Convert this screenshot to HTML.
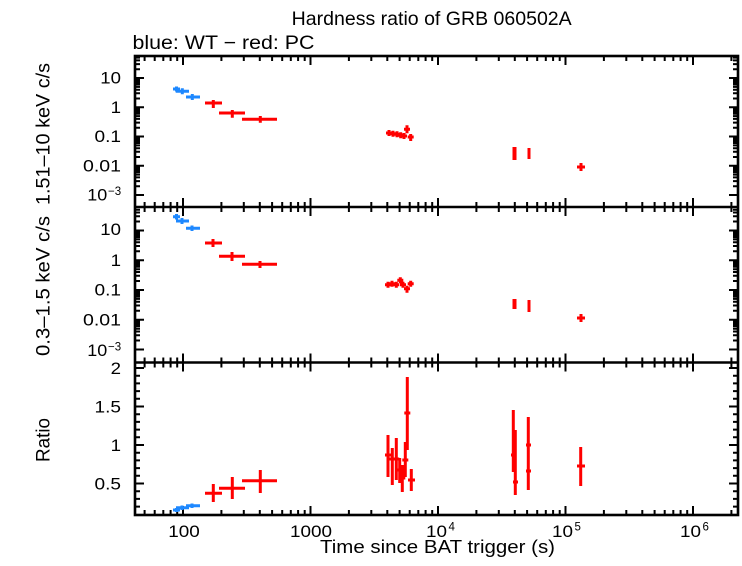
<!DOCTYPE html>
<html><head><meta charset="utf-8"><style>
html,body{margin:0;padding:0;background:#fff;}
svg{display:block;}
text{font-family:"Liberation Sans",Arial,sans-serif;fill:#000;}
</style></head><body>
<svg width="742" height="566" viewBox="0 0 742 566" xmlns="http://www.w3.org/2000/svg">
<rect x="0" y="0" width="742" height="566" fill="#fff"/>
<defs>
<path id="xt" fill="none" stroke="#000" stroke-width="2" d="M183 0v9M310.5 0v9M438 0v9M565.5 0v9M693 0v9M144.6 0v5M154.7 0v5M163.3 0v5M170.6 0v5M177.2 0v5M221.4 0v5M243.8 0v5M259.8 0v5M272.1 0v5M282.2 0v5M290.8 0v5M298.1 0v5M304.7 0v5M348.9 0v5M371.3 0v5M387.3 0v5M399.6 0v5M409.7 0v5M418.3 0v5M425.6 0v5M432.2 0v5M476.4 0v5M498.8 0v5M514.8 0v5M527.1 0v5M537.2 0v5M545.8 0v5M553.1 0v5M559.7 0v5M603.9 0v5M626.3 0v5M642.3 0v5M654.6 0v5M664.7 0v5M673.3 0v5M680.6 0v5M687.2 0v5M731.4 0v5"/>
<path id="yt1" fill="none" stroke="#000" stroke-width="2" d="M135 78.05h9M135 107.3h9M135 136.55h9M135 165.8h9M135 195.05h9M135 57.6h5M135 60.4h5M135 64.1h5M135 69.2h5M135 79.4h5M135 80.9h5M135 82.6h5M135 84.5h5M135 86.9h5M135 89.7h5M135 93.3h5M135 98.5h5M135 108.6h5M135 110.1h5M135 111.8h5M135 113.8h5M135 116.1h5M135 118.9h5M135 122.6h5M135 127.7h5M135 137.9h5M135 139.4h5M135 141.1h5M135 143h5M135 145.4h5M135 148.2h5M135 151.8h5M135 157h5M135 167.1h5M135 168.6h5M135 170.3h5M135 172.3h5M135 174.6h5M135 177.4h5M135 181.1h5M135 186.2h5"/>
<path id="yt2" fill="none" stroke="#000" stroke-width="2" d="M135 230.45h9M135 260.2h9M135 289.95h9M135 319.7h9M135 349.45h9M135 209.7h5M135 212.5h5M135 216.3h5M135 221.5h5M135 231.8h5M135 233.3h5M135 235.1h5M135 237.1h5M135 239.4h5M135 242.3h5M135 246h5M135 251.2h5M135 261.6h5M135 263.1h5M135 264.8h5M135 266.8h5M135 269.2h5M135 272h5M135 275.8h5M135 281h5M135 291.3h5M135 292.8h5M135 294.6h5M135 296.6h5M135 298.9h5M135 301.8h5M135 305.5h5M135 310.7h5M135 321.1h5M135 322.6h5M135 324.3h5M135 326.3h5M135 328.7h5M135 331.5h5M135 335.3h5M135 340.5h5"/>
<path id="yt3" fill="none" stroke="#000" stroke-width="2" d="M135 368h9M135 406.5h9M135 445h9M135 483.5h9M135 375.7h5M135 383.4h5M135 391.1h5M135 398.8h5M135 414.2h5M135 421.9h5M135 429.6h5M135 437.3h5M135 452.7h5M135 460.4h5M135 468.1h5M135 475.8h5M135 491.2h5M135 498.9h5M135 506.6h5"/>
</defs>

<!-- ticks -->
<use href="#xt" transform="translate(0,56)"/>
<use href="#xt" transform="translate(0,207) scale(1,-1)"/>
<use href="#xt" transform="translate(0,207)"/>
<use href="#xt" transform="translate(0,362.5) scale(1,-1)"/>
<use href="#xt" transform="translate(0,362.5)"/>
<use href="#xt" transform="translate(0,515) scale(1,-1)"/>
<use href="#yt1"/><use href="#yt1" transform="translate(873,0) scale(-1,1)"/>
<use href="#yt2"/><use href="#yt2" transform="translate(873,0) scale(-1,1)"/>
<use href="#yt3"/><use href="#yt3" transform="translate(873,0) scale(-1,1)"/>

<!-- frames -->
<rect x="135" y="56" width="603" height="459" fill="none" stroke="#000" stroke-width="2.6"/>
<path d="M135 207H738M135 362.5H738" stroke="#000" stroke-width="2.6" fill="none"/>

<!-- blue data -->
<path fill="none" stroke="#1e88ff" stroke-width="3" d="M173 89H180M176.5 86.5V91.5M175.7 91.3H189M182.3 88.3V94.3M186 97H200M192.3 94V100
M173 216.7H180M176.5 214V219.5M176 221H189M182 218V224M186 228.3H200M192 225.5V231
M173 510H180M176.5 508V512M176 507.7H189M182 505.5V510M186 505.7H200M192 503.5V508"/>

<!-- red data -->
<path fill="none" stroke="#ff0000" stroke-width="3" d="
M205 103H222M213.3 100V108M219 113H245M232.3 110V117.7M242 119.3H277M260.3 116V122.7
M386 133h6M389 130v6M390 133.7h6M393 130.7v6M394 134.3h6M397 131.3v6M397.7 135.3h6M400.7 132.3v6M401 136h6M404 133v6M404 129.3h6M407 125.3v8M407.7 137h6M410.7 134v7
M529 148V159M577 167H585M581 163V171
M205 243H222M213 239V247M219 256.3H245M232 252V261M242 264.3H277M260 261V268
M385 284.7h6M388 281.7v6M389 283.7h6M392 280.7v6M393.3 284.7h6M396.3 281.7v6M397.3 280.3h6M400.3 277.3v6M400 284.7h6M403 281.7v6M404 288.7h6M407 285.7v7M407.7 283.7h6M410.7 280.7v6
M529 300V312M577 318H585M581 314V322
M205 493.3H222M213.3 484V502M219 488.3H245M232.3 477V499M242 480.7H277M260.3 470V493
M388 435V477M385 455h6M392.3 448V485M389.3 459h6M396.3 438V480M393.3 459h6M399.7 458V483M396.7 470h6M402.3 465V492M399.3 478h6M405.3 442V477M402.3 460h6M407.3 377V450M404.3 413h6M411.3 469V491M408 480h7
M513.3 410V472M511 455h5M515.3 430V495M513 482h5M528.3 417V490M526 445h5M526 471h5M580.7 447V486M577 466H585"/>
<path fill="none" stroke="#ff0000" stroke-width="4" d="M514.5 147V160M514.5 299V309"/>

<!-- titles -->
<text x="291.7" y="25" font-size="19.5" textLength="280" lengthAdjust="spacingAndGlyphs">Hardness ratio of GRB 060502A</text>
<text x="132.5" y="49" font-size="19.5" textLength="182" lengthAdjust="spacingAndGlyphs">blue: WT − red: PC</text>

<!-- y axis labels -->
<text transform="translate(49.5,134) rotate(-90)" text-anchor="middle" font-size="19" textLength="142" lengthAdjust="spacingAndGlyphs">1.51–10 keV c/s</text>
<text transform="translate(49.5,286) rotate(-90)" text-anchor="middle" font-size="19" textLength="140" lengthAdjust="spacingAndGlyphs">0.3–1.5 keV c/s</text>
<text transform="translate(49.5,440) rotate(-90)" text-anchor="middle" font-size="19" textLength="44" lengthAdjust="spacingAndGlyphs">Ratio</text>

<!-- top panel y tick labels -->
<g font-size="17" text-anchor="end">
<text x="121" y="83.5" textLength="20.7" lengthAdjust="spacingAndGlyphs">10</text>
<text x="121" y="113" textLength="10.4" lengthAdjust="spacingAndGlyphs">1</text>
<text x="121" y="142.2" textLength="26.5" lengthAdjust="spacingAndGlyphs">0.1</text>
<text x="121" y="171.5" textLength="38" lengthAdjust="spacingAndGlyphs">0.01</text>
<text x="107.3" y="200.3" textLength="20" lengthAdjust="spacingAndGlyphs">10</text>
<text x="121" y="235.2" textLength="20.7" lengthAdjust="spacingAndGlyphs">10</text>
</g>
<text x="108" y="195" font-size="11.5">−3</text>

<!-- middle panel y tick labels -->
<g font-size="17" text-anchor="end">
<text x="121" y="265.8" textLength="10.4" lengthAdjust="spacingAndGlyphs">1</text>
<text x="121" y="295.6" textLength="26.5" lengthAdjust="spacingAndGlyphs">0.1</text>
<text x="121" y="325.3" textLength="38" lengthAdjust="spacingAndGlyphs">0.01</text>
<text x="107.3" y="356" textLength="20" lengthAdjust="spacingAndGlyphs">10</text>
</g>
<text x="108" y="350.5" font-size="11.5">−3</text>

<!-- ratio tick labels -->
<g font-size="17" text-anchor="end">
<text x="121" y="374" textLength="10.4" lengthAdjust="spacingAndGlyphs">2</text>
<text x="121" y="412.3" textLength="26.5" lengthAdjust="spacingAndGlyphs">1.5</text>
<text x="121" y="450.8" textLength="10.4" lengthAdjust="spacingAndGlyphs">1</text>
<text x="121" y="489.3" textLength="26.5" lengthAdjust="spacingAndGlyphs">0.5</text>
</g>

<!-- x tick labels -->
<g font-size="17" text-anchor="middle">
<text x="184" y="537" textLength="31.5" lengthAdjust="spacingAndGlyphs">100</text>
<text x="311" y="537" textLength="42" lengthAdjust="spacingAndGlyphs">1000</text>
<text x="436.5" y="537" textLength="21" lengthAdjust="spacingAndGlyphs">10</text>
<text x="562.5" y="537" textLength="21" lengthAdjust="spacingAndGlyphs">10</text>
<text x="690.5" y="537" textLength="21" lengthAdjust="spacingAndGlyphs">10</text>
</g>
<g font-size="11.5">
<text x="448.5" y="530.5">4</text>
<text x="574.5" y="530.5">5</text>
<text x="702.5" y="530.5">6</text>
</g>

<text x="437.5" y="553" font-size="18.6" text-anchor="middle" textLength="235" lengthAdjust="spacingAndGlyphs">Time since BAT trigger (s)</text>
</svg>
</body></html>
